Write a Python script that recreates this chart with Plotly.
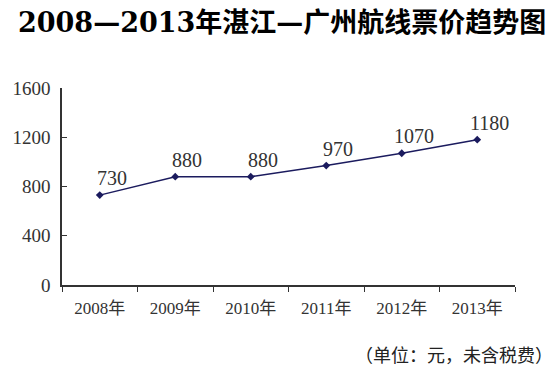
import plotly.graph_objects as go

years = ["2008年", "2009年", "2010年", "2011年", "2012年", "2013年"]
prices = [730, 880, 880, 970, 1070, 1180]
y_ticks = [0, 400, 800, 1200, 1600]

title_text = "2008—2013年湛江—广州航线票价趋势图"
note_text = "（单位：元，未含税费）"

serif = "Liberation Serif, Noto Sans CJK SC"
line_color = "#1b1b5e"

fig = go.Figure()
fig.add_trace(go.Scatter(
    x=years, y=prices, mode="lines+markers",
    line=dict(color=line_color, width=1.5),
    marker=dict(symbol="diamond", size=6, color=line_color),
    showlegend=False, hoverinfo="skip",
))

for x, y in zip(years, prices):
    fig.add_annotation(
        x=x, y=y, text=str(y), showarrow=False,
        xanchor="center", yanchor="bottom", xshift=12, yshift=4,
        font=dict(family=serif, size=20, color="#333333"),
    )

fig.add_annotation(
    xref="paper", yref="paper", x=0.5, y=1, xanchor="center", yanchor="middle",
    text=f"<b>{title_text}</b>", showarrow=False, xshift=-7, yshift=66,
    font=dict(family="DejaVu Serif, Noto Sans CJK SC", size=27, color="#000000"),
)

fig.add_annotation(
    xref="paper", yref="paper", x=1, y=0, xanchor="right", yanchor="middle",
    text=note_text, showarrow=False, yshift=-69, xshift=40,
    font=dict(family="Noto Sans CJK SC", size=18, color="#222222"),
)

# page has an 8px body margin, so the figure is sized and placed to compensate
fig.update_layout(
    width=552, height=364,
    margin=dict(l=54, r=45, t=80, b=87, autoexpand=False),
    paper_bgcolor="white", plot_bgcolor="white",
    xaxis=dict(
        type="category", range=[-0.5, 5.5], tickson="boundaries",
        ticks="outside", ticklen=5, tickcolor="#333333", automargin=False,
        showline=True, linecolor="#333333", linewidth=1.5,
        showgrid=False, zeroline=False,
        tickfont=dict(family=serif, size=17, color="#333333"),
        ticklabelstandoff=7,
    ),
    yaxis=dict(
        range=[0, 1600], tickvals=y_ticks, ticktext=[str(v) for v in y_ticks],
        ticks="inside", ticklen=5, tickcolor="#333333", automargin=False,
        showline=True, linecolor="#333333", linewidth=1.5,
        showgrid=False, zeroline=False,
        tickfont=dict(family=serif, size=19, color="#333333"),
        ticklabelstandoff=6,
    ),
)

fig.write_html("out.html")
